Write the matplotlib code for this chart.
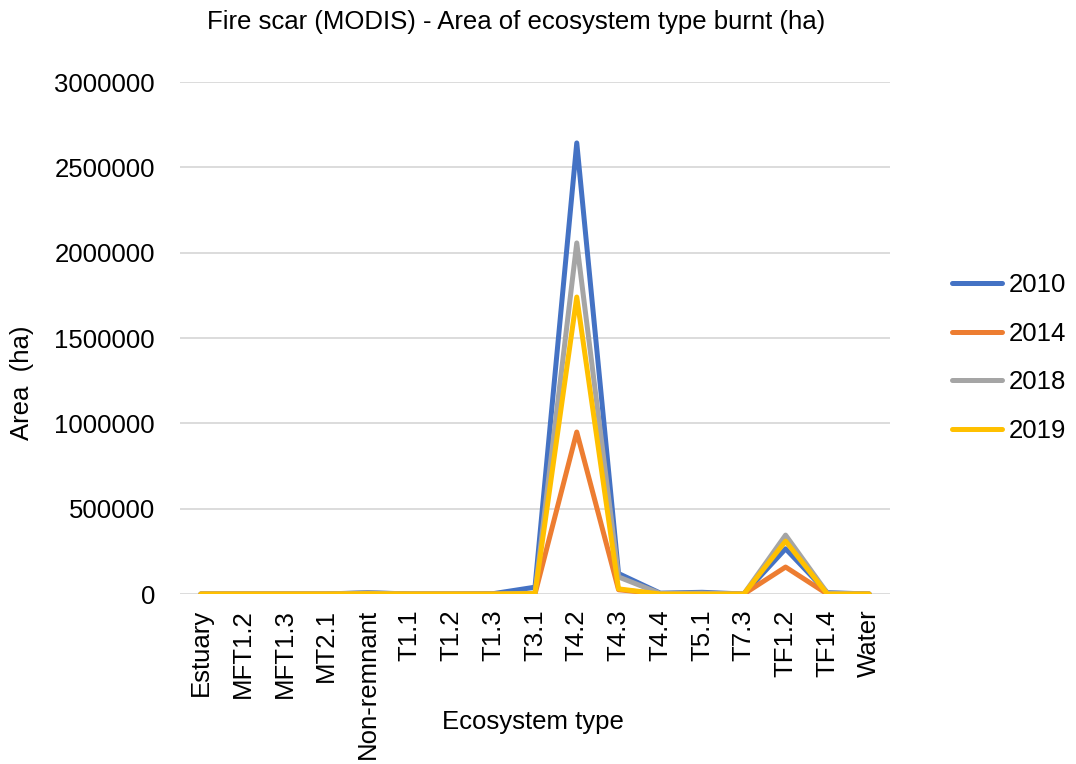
import matplotlib
matplotlib.use("Agg")
import matplotlib.pyplot as plt

plt.rcParams['font.family'] = ['Liberation Sans', 'DejaVu Sans']

categories = ["Estuary", "MFT1.2", "MFT1.3", "MT2.1", "Non-remnant", "T1.1", "T1.2", "T1.3",
              "T3.1", "T4.2", "T4.3", "T4.4", "T5.1", "T7.3", "TF1.2", "TF1.4", "Water"]
s2010 = [0, 0, 0, 0, 8000, 0, 0, 2000, 40000, 2643000, 120000, 5000, 10000, 0, 265000, 8000, 0]
s2014 = [0, 0, 0, 0, 3000, 0, 0, 0, 0, 949000, 25000, 0, 0, 0, 158000, 0, 0]
s2018 = [0, 0, 0, 0, 6000, 0, 0, 0, 5000, 2057000, 100000, 3000, 5000, 0, 345000, 5000, 0]
s2019 = [0, 0, 0, 0, 2000, 0, 0, 0, 3000, 1740000, 30000, 0, 0, 0, 310000, 0, 0]
series = [("2010", s2010, "#4472C4"), ("2014", s2014, "#ED7D31"),
          ("2018", s2018, "#A5A5A5"), ("2019", s2019, "#FFC000")]
yticks = [0, 500000, 1000000, 1500000, 2000000, 2500000, 3000000]

FS = 18.5
W, H = 1076, 764
fig = plt.figure(figsize=(W / 100, H / 100), dpi=100)
ax = fig.add_axes([180 / W, 1 - 594 / H, 710 / W, 512 / H])
x = list(range(len(categories)))
for name, vals, col in series:
    ax.plot(x, vals, color=col, lw=3.6, label=name, solid_joinstyle='round', solid_capstyle='round')

ax.set_ylim(0, 3000000)
ax.set_xlim(-0.5, len(categories) - 0.5)
ax.set_yticks(yticks)
ax.set_yticklabels([str(v) for v in yticks], fontsize=FS, color='#000000')
ax.set_xticks(x)
ax.set_xticklabels(categories, rotation=90, fontsize=FS)
ax.tick_params(axis='y', length=0, pad=18)
ax.tick_params(axis='x', length=0, pad=11)
ax.grid(axis='y', color='#D9D9D9', lw=1.3)
ax.set_axisbelow(True)
for sp in ax.spines.values():
    sp.set_visible(False)

fig.text(22 / W, 1 - 383 / H, "Area  (ha)", fontsize=FS, rotation=90, ha='center', va='center')
fig.text(533 / W, 1 - 722 / H, "Ecosystem type", fontsize=FS, ha='center', va='center')
fig.text(516 / W, 1 - 22 / H, "Fire scar (MODIS) - Area of ecosystem type burnt (ha)",
         fontsize=FS, ha='center', va='center')

handles, labels = ax.get_legend_handles_labels()
fig.legend(handles, labels, loc='center left', bbox_to_anchor=(952 / W, 1 - 358 / H),
           frameon=False, fontsize=FS, borderpad=0, borderaxespad=0,
           handlelength=1.95, labelspacing=0.95, handletextpad=0.25)
fig.savefig("out.png", dpi=100)
